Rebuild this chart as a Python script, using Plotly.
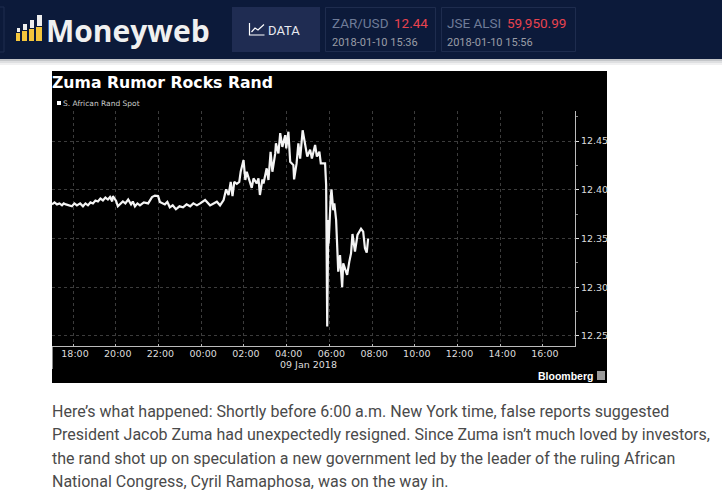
import pandas as pd
import plotly.graph_objects as go

W = 722
H = 501

# minutes after 17:00 on 08 Jan 2018, and the spot rate
minutes = [1, 8, 15, 22, 29, 34, 40, 48, 57, 64, 71, 80, 88, 95, 102, 109, 116, 123, 130, 137, 144, 151, 158,
           164, 170, 172, 181, 186, 193, 200, 207, 215, 223, 228, 234, 241, 248, 259, 271, 282, 290, 299, 304,
           311, 318, 325, 332, 340, 349, 359, 369, 379, 389, 398, 408,
           417, 431, 445, 464, 473, 483, 490, 497, 503, 508, 513, 520, 527, 531, 539, 544, 548, 556,
           562, 567, 576, 581, 585, 592, 595, 604, 609, 615, 620, 628, 630, 637, 642, 648, 656, 659,
           665, 670, 679, 681, 688, 693, 698, 705, 712, 718, 726, 731, 740, 745, 752, 756, 768, 771,
           774, 777, 778, 784, 786, 791, 794, 799, 802, 805, 810, 816, 819, 824, 830, 836, 841, 845,
           852, 859, 869, 875, 880, 885, 889]
rate = [12.385, 12.387, 12.385, 12.386, 12.384, 12.386, 12.385, 12.384, 12.383, 12.386, 12.384, 12.386, 12.383,
        12.386, 12.384, 12.387, 12.386, 12.389, 12.388, 12.391, 12.389, 12.392, 12.390,
        12.3925, 12.388, 12.3935, 12.3885, 12.383, 12.386, 12.388, 12.386, 12.390, 12.385, 12.388, 12.383,
        12.386, 12.384, 12.387, 12.386, 12.3925, 12.394, 12.3935, 12.3875,
        12.3865, 12.385, 12.3875, 12.382, 12.384, 12.380, 12.383, 12.382, 12.385, 12.383, 12.386, 12.384,
        12.386, 12.3895, 12.384, 12.3877, 12.384, 12.3895, 12.4004, 12.3946, 12.408, 12.3935, 12.408, 12.406,
        12.408, 12.4185, 12.4305, 12.41, 12.4185, 12.408,
        12.402, 12.4117, 12.4065, 12.4117, 12.3946, 12.4107, 12.4065, 12.422, 12.41, 12.439, 12.4185, 12.4373,
        12.4476, 12.4373, 12.458, 12.444, 12.456, 12.4425,
        12.4595, 12.4288, 12.4253, 12.4107, 12.427, 12.4476, 12.432, 12.461, 12.4476, 12.434, 12.441, 12.432,
        12.446, 12.434, 12.439, 12.427, 12.427, 12.405,
        12.2596, 12.369, 12.345, 12.393, 12.4004, 12.379, 12.386, 12.369, 12.3467, 12.316, 12.333, 12.30,
        12.3245, 12.3194, 12.3126, 12.326, 12.335, 12.3546,
        12.3365, 12.3536, 12.36, 12.357, 12.34, 12.3355, 12.35]

y_ticks = [12.25, 12.30, 12.35, 12.40, 12.45]
body_lines = [
    "Here\u2019s what happened: Shortly before 6:00 a.m. New York time, false reports suggested",
    "President Jacob Zuma had unexpectedly resigned. Since Zuma isn\u2019t much loved by investors,",
    "the rand shot up on speculation a new government led by the leader of the ruling African",
    "National Congress, Cyril Ramaphosa, was on the way in.",
]

times = pd.Timestamp("2018-01-08 17:00") + pd.to_timedelta(minutes, unit="min")


def px(x):
    return x / W


def py(y):
    return 1 - y / H


def rect(x0, y0, x1, y1, fill, line=None):
    return dict(type="rect", xref="paper", yref="paper", x0=px(x0), x1=px(x1), y0=py(y0), y1=py(y1),
                fillcolor=fill, line=dict(color=line or fill, width=1 if line else 0), layer="below")


def text(x, y, s, size, color, family="Roboto", anchor="left", bold=False):
    if bold:
        s = "<b>" + s + "</b>"
    return dict(xref="paper", yref="paper", x=px(x), y=py(y), text=s, showarrow=False, xanchor=anchor,
                yanchor="middle", align="left", borderpad=0, borderwidth=0,
                font=dict(size=size, color=color, family=family))


navy = "#0c1a3a"
shapes = [
    rect(0, 0, 722, 59, navy),
    rect(0, 59, 722, 61, "#c4c6c9"),
    rect(0, 61, 722, 63, "#dedfe1"),
    rect(0, 63, 722, 65, "#f0f0f1"),
    rect(-2, 7, 4, 52, navy, "#1e2c4e"),
    rect(232, 7, 320, 52, "#1f2c52"),
    rect(325.5, 7.5, 435.5, 51.5, navy, "#1e2c4e"),
    rect(441.5, 7.5, 575.5, 51.5, navy, "#1e2c4e"),
    # logo bars
    rect(16, 33, 20, 41, "#f5c63c"), rect(22, 31, 27, 41, "#f5c63c"),
    rect(29, 29, 34, 41, "#f5c63c"), rect(36, 27, 42, 41, "#f5c63c"),
    rect(17, 28, 20, 32, "#eeeeee"), rect(23, 24, 27, 30, "#eeeeee"),
    rect(30, 20, 34, 28, "#eeeeee"), rect(37, 15, 42, 26, "#eeeeee"),
    # black chart card
    rect(52, 71, 607, 383, "#000000"),
    rect(52, 346, 53, 369, "#888888"),
    rect(57, 101, 61, 105, "#ffffff"),
    rect(597, 371, 605, 380, "#9a9a9a"),
]
icon = (f"M {px(249.5)} {py(23)} L {px(249.5)} {py(35)} L {px(264.5)} {py(35)} "
        f"M {px(251.5)} {py(32)} L {px(255)} {py(28)} L {px(258)} {py(30)} L {px(264)} {py(24.5)}")
shapes.append(dict(type="path", xref="paper", yref="paper", path=icon, line=dict(color="#ffffff", width=1.2)))

annotations = [
    text(46, 31, "Moneyweb", 30, "#f0f0f0", "Open Sans", bold=True),
    text(268, 30, "DATA", 13, "#e8eaf0"),
    text(332, 23, "ZAR/USD", 13.5, "#6f7c98"),
    text(394, 23, "12.44", 13.5, "#e8434f"),
    text(332, 42, "2018-01-10 15:36", 11, "#9a9da6"),
    text(447, 23, "JSE ALSI", 13.5, "#6f7c98"),
    text(507, 23, "59,950.99", 13.5, "#e8434f"),
    text(447, 42, "2018-01-10 15:56", 11, "#9a9da6"),
    text(52, 82, "Zuma Rumor Rocks Rand", 15.7, "#ffffff", "DejaVu Sans", bold=True),
    text(63, 103, "S. African Rand Spot", 7.5, "#cccccc", "DejaVu Sans"),
    text(308, 364, "09 Jan 2018", 9.5, "#dddddd", "DejaVu Sans", anchor="center"),
    text(593, 376, "Bloomberg", 10.5, "#ffffff", "Liberation Sans", anchor="right", bold=True),
]
for i, line in enumerate(body_lines):
    annotations.append(text(52, 411 + i * 23.5, line, 16, "#4a4a4a"))

fig = go.Figure(go.Scatter(x=times, y=rate, mode="lines", line=dict(color="#f4f4f4", width=2.2),
                           showlegend=False, hoverinfo="skip"))

fig.update_layout(
    width=W, height=H, margin=dict(l=0, r=0, t=0, b=0),
    paper_bgcolor="#ffffff", plot_bgcolor="#000000",
    shapes=shapes, annotations=annotations,
)
fig.update_xaxes(
    domain=[px(52), px(575)],
    range=["2018-01-08 17:01", "2018-01-09 17:30"],
    tick0="2018-01-08 18:00", dtick=7200000, tickformat="%H:%M",
    tickfont=dict(size=9.5, color="#dddddd", family="DejaVu Sans"),
    ticks="inside", ticklen=2, tickcolor="#bbbbbb", ticklabelshift=2, ticklabelstandoff=-1,
    showline=True, linecolor="#bbbbbb", linewidth=1,
    showgrid=True, gridcolor="#3c3c3c", griddash="dot", gridwidth=1, zeroline=False,
)
fig.update_yaxes(
    domain=[py(346), py(111)],
    range=[12.2397, 12.4808], side="right",
    tickvals=y_ticks, tickformat=".2f",
    tickfont=dict(size=9.5, color="#dddddd", family="DejaVu Sans"),
    ticks="outside", ticklen=3, tickcolor="#dddddd",
    minor=dict(dtick=0.025, ticks="outside", ticklen=2, tickcolor="#888888", showgrid=False),
    showline=True, linecolor="#bbbbbb", linewidth=1,
    showgrid=True, gridcolor="#3c3c3c", griddash="dot", gridwidth=1, zeroline=False,
)

fig.write_html("out.html", config=dict(displayModeBar=False), post_script="document.body.style.margin='0';")
